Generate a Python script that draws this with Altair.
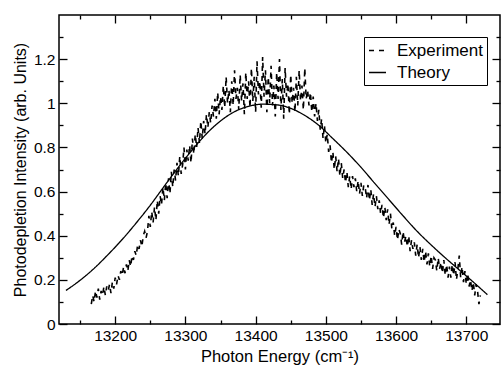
import altair as alt
import pandas as pd

# ---------------- data ----------------
exp_start = 13166   # first experimental photon energy (cm^-1)
exp_step = 2        # sampling step of the experimental scan (cm^-1)
exp_y = [
    0.09, 0.13, 0.10, 0.15, 0.12,
    0.16, 0.11, 0.15, 0.13, 0.17,
    0.13, 0.17, 0.15, 0.18, 0.14,
    0.19, 0.16, 0.21, 0.18, 0.22,
    0.20, 0.24, 0.22, 0.26, 0.23,
    0.27, 0.24, 0.29, 0.26, 0.31,
    0.29, 0.33, 0.31, 0.36, 0.34,
    0.38, 0.35, 0.40, 0.42, 0.39,
    0.42, 0.49, 0.44, 0.51, 0.46,
    0.53, 0.47, 0.56, 0.50, 0.58,
    0.54, 0.62, 0.56, 0.64, 0.57,
    0.66, 0.59, 0.69, 0.62, 0.70,
    0.65, 0.73, 0.67, 0.76, 0.68,
    0.72, 0.80, 0.70, 0.79, 0.74,
    0.81, 0.73, 0.84, 0.77, 0.86,
    0.80, 0.89, 0.82, 0.92, 0.84,
    0.92, 0.86, 0.95, 0.89, 0.96,
    0.91, 0.99, 0.94, 1.02, 0.93,
    1.05, 0.95, 1.03, 0.97, 1.08,
    0.98, 1.12, 1.00, 1.06, 0.96,
    1.10, 0.99, 1.15, 1.02, 1.07,
    0.97, 1.13, 1.01, 1.09, 0.95,
    1.14, 1.02, 1.10, 0.98, 1.16,
    1.01, 1.12, 0.96, 1.19, 1.04,
    1.10, 0.98, 1.21, 1.03, 1.15,
    0.96, 1.12, 1.00, 1.17, 0.99,
    1.08, 0.94, 1.14, 1.02, 1.20,
    0.97, 1.11, 0.93, 1.16, 1.03,
    1.09, 0.95, 1.13, 1.00, 1.07,
    0.96, 1.12, 0.99, 1.15, 1.01,
    1.08, 0.97, 1.16, 1.02, 1.06,
    0.99, 1.05, 0.96, 1.03, 0.94,
    1.00, 0.92, 0.97, 0.88, 0.93,
    0.84, 0.90, 0.82, 0.86, 0.78,
    0.81, 0.73, 0.78, 0.70, 0.76,
    0.69, 0.75, 0.67, 0.73, 0.66,
    0.70, 0.64, 0.69, 0.62, 0.67,
    0.61, 0.67, 0.62, 0.66, 0.60,
    0.65, 0.59, 0.64, 0.58, 0.63,
    0.62, 0.57, 0.63, 0.56, 0.61,
    0.54, 0.59, 0.53, 0.58, 0.52,
    0.56, 0.50, 0.54, 0.48, 0.53,
    0.47, 0.52, 0.45, 0.50, 0.43,
    0.46, 0.40, 0.44, 0.38, 0.43,
    0.41, 0.36, 0.42, 0.37, 0.40,
    0.35, 0.40, 0.33, 0.38, 0.34,
    0.37, 0.31, 0.36, 0.30, 0.35,
    0.29, 0.34, 0.28, 0.33, 0.27,
    0.32, 0.26, 0.31, 0.25, 0.30,
    0.29, 0.24, 0.30, 0.25, 0.28,
    0.23, 0.29, 0.22, 0.27, 0.21,
    0.26, 0.21, 0.27, 0.22, 0.28,
    0.20, 0.25, 0.31, 0.21, 0.26,
    0.19, 0.24, 0.18, 0.23, 0.17,
    0.20, 0.15, 0.19, 0.13, 0.18,
    0.15, 0.09, 0.13,
]
exp_x = [exp_start + exp_step * i for i in range(len(exp_y))]

theory_x = [13130, 13150, 13170, 13190, 13210, 13230, 13250, 13270, 13290, 13310,
            13330, 13350, 13370, 13390, 13410, 13430, 13450, 13470, 13490, 13510,
            13530, 13550, 13570, 13590, 13610, 13630, 13650, 13670, 13690, 13710,
            13730]
theory_y = [0.152, 0.198, 0.252, 0.315, 0.383, 0.458, 0.538, 0.625, 0.710, 0.790,
            0.862, 0.920, 0.962, 0.986, 0.996, 0.993, 0.977, 0.945, 0.900, 0.840,
            0.778, 0.710, 0.636, 0.563, 0.490, 0.420, 0.358, 0.300, 0.245, 0.190,
            0.133]

series_names = ["Experiment", "Theory"]
x_major = [13200, 13300, 13400, 13500, 13600, 13700]
x_minor = [13150, 13250, 13350, 13450, 13550, 13650]
y_major = [0, 0.2, 0.4, 0.6, 0.8, 1.0, 1.2]
y_minor = [0.1, 0.3, 0.5, 0.7, 0.9, 1.1, 1.3]

exp_df = pd.DataFrame({"x": exp_x, "y": exp_y, "series": series_names[0]})
th_df = pd.DataFrame({"x": theory_x, "y": theory_y, "series": series_names[1]})

FONT = "Liberation Sans"
xs = alt.Scale(domain=[13120, 13748], nice=False, zero=False)
ys = alt.Scale(domain=[0, 1.4], nice=False, zero=False)

MAJ = 8
MIN = 4


def xaxis(orient, values, size, labels, title=""):
    kw = dict(orient=orient, values=values, tickSize=size, offset=-size,
              domain=False, grid=False, labels=labels, title=title,
              tickColor="black", tickWidth=1.3)
    if labels:
        kw.update(format="d", labelFontSize=15.5, labelFont=FONT, labelColor="black",
                  labelPadding=4, titleFontSize=16.5, titleFont=FONT, titleColor="black",
                  titleFontWeight="normal", titlePadding=5)
    return alt.Axis(**kw)


def yaxis(orient, values, size, labels, title=""):
    kw = dict(orient=orient, values=values, tickSize=size, offset=-size,
              domain=False, grid=False, labels=labels, title=title,
              tickColor="black", tickWidth=1.3)
    if labels:
        kw.update(format="~g", labelFontSize=15.5, labelFont=FONT, labelColor="black",
                  labelPadding=4, titleFontSize=16, titleFont=FONT, titleColor="black",
                  titleFontWeight="normal", titlePadding=5)
    return alt.Axis(**kw)


dash_scale = alt.Scale(domain=series_names, range=[[5, 5], [1, 0]])
legend = alt.Legend(title=None, orient="none", legendX=305, legendY=22,
                    direction="vertical", symbolType="stroke", symbolSize=289,
                    symbolStrokeWidth=1.3, symbolStrokeColor="black",
                    labelFontSize=17, labelFont=FONT, labelColor="black",
                    strokeColor="black", fillColor="white", padding=4,
                    rowPadding=4, labelOffset=10)

exp_layer = alt.Chart(exp_df).mark_line(color="black", strokeWidth=1.6).encode(
    x=alt.X("x:Q", scale=xs, axis=xaxis("bottom", x_major, MAJ, True, "Photon Energy (cm⁻¹)")),
    y=alt.Y("y:Q", scale=ys, axis=yaxis("left", y_major, MAJ, True,
                                        "Photodepletion Intensity (arb. Units)")),
    strokeDash=alt.StrokeDash("series:N", scale=dash_scale, legend=legend),
)

th_layer = alt.Chart(th_df).mark_line(color="black", strokeWidth=1.3,
                                      interpolate="monotone").encode(
    x=alt.X("x:Q", scale=xs, axis=xaxis("bottom", x_minor, MIN, False)),
    y=alt.Y("y:Q", scale=ys, axis=yaxis("left", y_minor, MIN, False)),
    strokeDash=alt.StrokeDash("series:N", scale=dash_scale, legend=legend),
)


def ghost(xa, ya):
    return alt.Chart(th_df).mark_line(opacity=0).encode(
        x=alt.X("x:Q", scale=xs, axis=xa),
        y=alt.Y("y:Q", scale=ys, axis=ya),
    )


top_major = ghost(xaxis("top", x_major, MAJ, False), yaxis("right", y_major, MAJ, False))
top_minor = ghost(xaxis("top", x_minor, MIN, False), yaxis("right", y_minor, MIN, False))

chart = alt.layer(exp_layer, th_layer, top_major, top_minor).resolve_axis(
    x="independent", y="independent"
).properties(
    width=441, height=309,
    autosize=alt.AutoSizeParams(type="none"),
    padding={"left": 59, "top": 15, "right": 1, "bottom": 44},
    background="white",
).configure_view(stroke="black", strokeWidth=1.5)

chart.save("out.html", embed_options={"renderer": "svg", "actions": False})
